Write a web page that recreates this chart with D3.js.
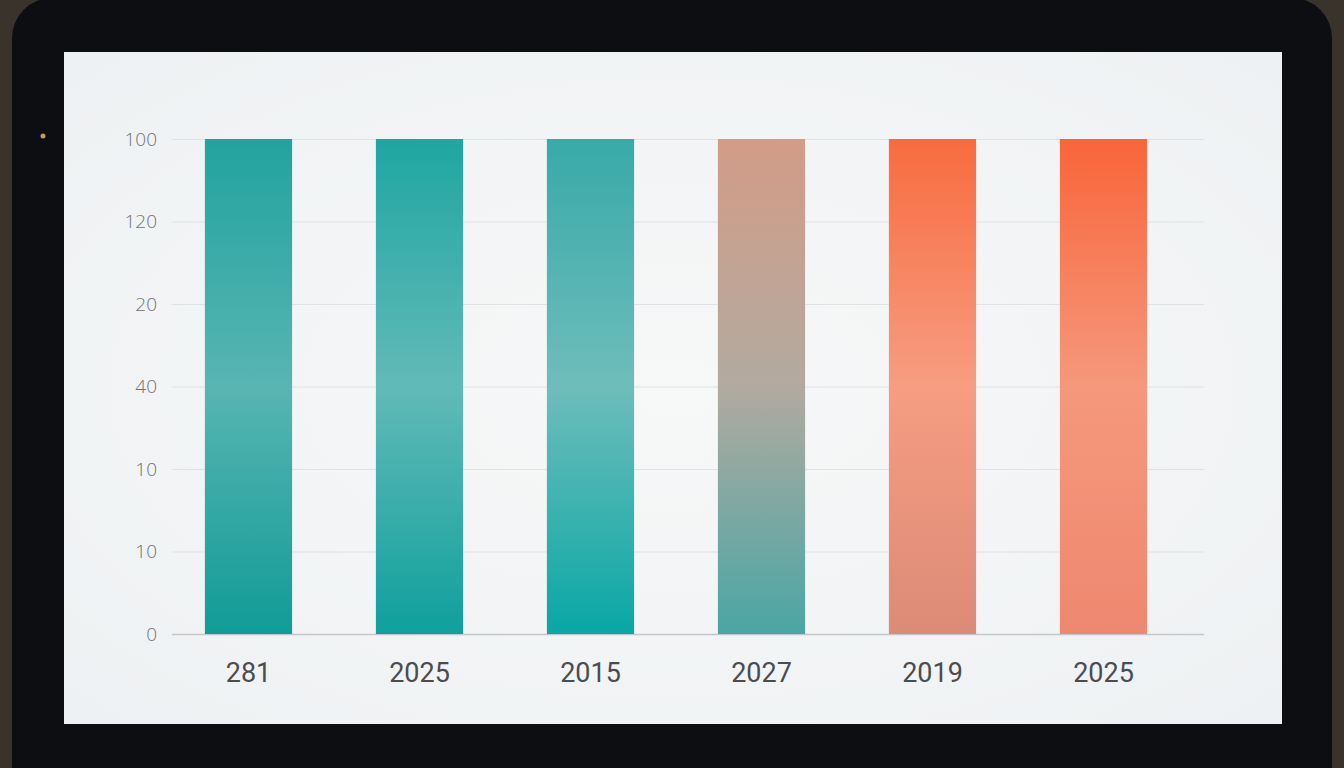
<!DOCTYPE html>
<html>
<head>
<meta charset="utf-8">
<script src="https://cdn.jsdelivr.net/npm/d3@7/dist/d3.min.js"></script>
<style>
  html, body { margin: 0; padding: 0; background: #2a2622; overflow: hidden; }
  svg { display: block; }
</style>
</head>
<body>
<svg id="chart" width="1344" height="768"></svg>
<script>
// ---- data ----
const categories = ["281", "2025", "2015", "2027", "2019", "2025"];
const values = [100, 100, 100, 100, 100, 100];
const tickLabels = ["0", "10", "10", "40", "20", "120", "100"];

// ---- styles (gradient stops per bar, top -> bottom) ----
const barGradients = [
  ["#22a39f", "#58b5b2", "#119b97"],
  ["#1fa6a2", "#62bab7", "#0fa09d"],
  ["#38aaa8", "#6ebdbb", "#09a7a5"],
  ["#d39c87", "#b2aaa0", "#4aa6a5"],
  ["#f96b3f", "#f69d82", "#dc8b77"],
  ["#f9653a", "#f5987c", "#ee8870"]
];

const svg = d3.select("#chart");
const W = 1344, H = 768;

// photo frame: background, bezel, screen
const defs = svg.append("defs");
const vign = defs.append("radialGradient").attr("id", "screenGlow")
  .attr("cx", "50%").attr("cy", "50%").attr("r", "70%");
vign.append("stop").attr("offset", "0%").attr("stop-color", "#f7f8f8");
vign.append("stop").attr("offset", "100%").attr("stop-color", "#eef1f3");

svg.append("rect").attr("width", W).attr("height", H).attr("fill", "#3a332c");
svg.append("rect").attr("x", 12).attr("y", -2).attr("width", 1320).attr("height", 850)
  .attr("rx", 40).attr("fill", "#0c0e11");
svg.append("rect").attr("x", 64).attr("y", 52).attr("width", 1218).attr("height", 672)
  .attr("fill", "url(#screenGlow)");
svg.append("circle").attr("cx", 43).attr("cy", 136).attr("r", 2.5).attr("fill", "#c89a5a");

// scales
const x = d3.scaleBand()
  .domain(categories.map((d, i) => i))
  .range([163, 1189])
  .paddingInner(0.49)
  .paddingOuter(0.245);

const y = d3.scaleLinear().domain([0, 100]).range([634, 139]);
const tickVals = tickLabels.map((d, i) => i * 100 / (tickLabels.length - 1));

// gridlines
const grid = svg.append("g").attr("transform", "translate(172,0)")
  .call(d3.axisLeft(y).tickValues(tickVals).tickSize(-1032).tickFormat(""));
grid.select(".domain").remove();
grid.selectAll(".tick line").attr("stroke", "#dfe2e5").attr("stroke-width", 1);
grid.selectAll(".tick").filter(d => d === 0).select("line")
  .attr("stroke", "#c3c7cb").attr("stroke-width", 1.5);

// y labels
const yAxis = svg.append("g").attr("transform", "translate(158,0)")
  .call(d3.axisLeft(y).tickValues(tickVals).tickSize(0)
    .tickFormat((d, i) => tickLabels[i]));
yAxis.select(".domain").remove();
yAxis.selectAll("text")
  .attr("font-family", "'Open Sans', sans-serif")
  .attr("font-weight", 300)
  .attr("font-size", 19)
  .attr("fill", "#707376")
  .attr("dx", 2);

// gradients
barGradients.forEach((stops, i) => {
  const g = defs.append("linearGradient").attr("id", "bar" + i)
    .attr("x1", 0).attr("y1", 0).attr("x2", 0).attr("y2", 1);
  g.append("stop").attr("offset", "0%").attr("stop-color", stops[0]);
  g.append("stop").attr("offset", "50%").attr("stop-color", stops[1]);
  g.append("stop").attr("offset", "100%").attr("stop-color", stops[2]);
});

// bars
svg.append("g").selectAll("rect")
  .data(values)
  .join("rect")
  .attr("x", (d, i) => x(i))
  .attr("width", x.bandwidth())
  .attr("y", d => y(d))
  .attr("height", d => y(0) - y(d))
  .attr("fill", (d, i) => `url(#bar${i})`);

// x labels
const xAxis = svg.append("g").attr("transform", "translate(0,634)")
  .call(d3.axisBottom(x).tickSize(0).tickFormat(i => categories[i]));
xAxis.select(".domain").remove();
xAxis.selectAll("text")
  .attr("font-family", "Roboto, 'Liberation Sans', sans-serif")
  .attr("font-size", 27)
  .attr("fill", "#4a4d50")
  .attr("dy", "1.65em");
</script>
</body>
</html>
